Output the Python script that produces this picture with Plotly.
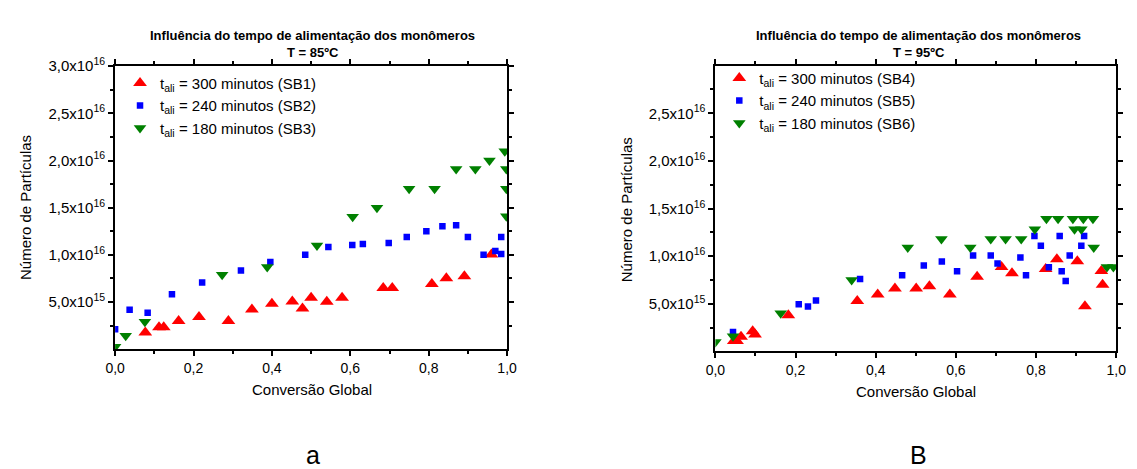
import plotly.graph_objects as go

# ---------------- data: T = 85 C (left) ----------------
sb1_x = [0.077, 0.112, 0.124, 0.162, 0.214, 0.289, 0.349, 0.400, 0.452, 0.478, 0.500,
         0.540, 0.579, 0.684, 0.707, 0.808, 0.845, 0.891, 0.960]
sb1_y = [1.77e15, 2.32e15, 2.32e15, 2.98e15, 3.40e15, 2.98e15, 4.20e15, 4.82e15, 5.06e15,
         4.30e15, 5.45e15, 5.03e15, 5.45e15, 6.49e15, 6.49e15, 6.90e15, 7.53e15, 7.74e15, 1.003e16]

sb2_x = [0.000, 0.037, 0.083, 0.145, 0.222, 0.321, 0.396, 0.485, 0.544, 0.605, 0.632,
         0.698, 0.744, 0.794, 0.835, 0.870, 0.900, 0.940, 0.970, 0.985, 0.985]
sb2_y = [2.10e15, 4.17e15, 3.85e15, 5.83e15, 7.08e15, 8.33e15, 9.23e15, 1.000e16, 1.083e16,
         1.104e16, 1.115e16, 1.125e16, 1.188e16, 1.250e16, 1.302e16, 1.313e16, 1.188e16,
         1.000e16, 1.042e16, 1.188e16, 1.010e16]

sb3_x = [0.000, 0.027, 0.076, 0.273, 0.388, 0.515, 0.606, 0.668, 0.750, 0.815, 0.870,
         0.919, 0.955, 0.994, 0.998, 0.998, 0.998]
sb3_y = [0.25e15, 1.42e15, 2.92e15, 7.88e15, 8.71e15, 1.100e16, 1.405e16, 1.500e16, 1.700e16,
         1.700e16, 1.910e16, 1.910e16, 2.000e16, 2.097e16, 1.910e16, 1.700e16, 1.410e16]

# ---------------- data: T = 95 C (right) ----------------
sb4_x = [0.046, 0.054, 0.064, 0.093, 0.099, 0.182, 0.354, 0.405, 0.448, 0.501, 0.534,
         0.585, 0.653, 0.714, 0.740, 0.824, 0.852, 0.903, 0.922, 0.963, 0.966]
sb4_y = [1.09e15, 1.09e15, 1.54e15, 2.12e15, 1.78e15, 3.80e15, 5.30e15, 5.99e15, 6.60e15,
         6.60e15, 6.84e15, 5.99e15, 7.83e15, 8.86e15, 8.21e15, 8.66e15, 9.68e15, 9.48e15,
         4.75e15, 8.45e15, 7.01e15]

sb5_x = [0.044, 0.208, 0.231, 0.251, 0.361, 0.466, 0.520, 0.565, 0.603, 0.643, 0.687,
         0.704, 0.761, 0.775, 0.796, 0.812, 0.832, 0.859, 0.864, 0.874, 0.884, 0.913, 0.920]
sb5_y = [2.05e15, 4.96e15, 4.72e15, 5.34e15, 7.60e15, 8.00e15, 9.03e15, 9.45e15, 8.42e15,
         1.006e16, 1.006e16, 9.24e15, 9.86e15, 8.00e15, 1.211e16, 1.109e16, 8.83e15,
         1.211e16, 8.42e15, 7.39e15, 1.006e16, 1.109e16, 1.211e16]

sb6_x = [0.000, 0.044, 0.163, 0.340, 0.480, 0.564, 0.636, 0.687, 0.724, 0.763, 0.797,
         0.826, 0.855, 0.892, 0.896, 0.913, 0.918, 0.942, 0.944, 0.977, 0.993]
sb6_y = [1.00e15, 1.60e15, 4.00e15, 7.50e15, 1.090e16, 1.180e16, 1.090e16, 1.180e16,
         1.180e16, 1.180e16, 1.283e16, 1.392e16, 1.392e16, 1.392e16, 1.283e16, 1.283e16,
         1.392e16, 1.392e16, 1.090e16, 8.86e15, 8.86e15]

x_tickvals = [0.0, 0.2, 0.4, 0.6, 0.8, 1.0]
x_ticktext = ["0,0", "0,2", "0,4", "0,6", "0,8", "1,0"]
x_minor = [0.1, 0.3, 0.5, 0.7, 0.9]
yl_tickvals = [5e15, 1e16, 1.5e16, 2e16, 2.5e16, 3e16]
yl_ticktext = ["5,0x10<sup>15</sup>", "1,0x10<sup>16</sup>", "1,5x10<sup>16</sup>",
               "2,0x10<sup>16</sup>", "2,5x10<sup>16</sup>", "3,0x10<sup>16</sup>"]
yr_tickvals = [5e15, 1e16, 1.5e16, 2e16, 2.5e16]
yr_ticktext = ["5,0x10<sup>15</sup>", "1,0x10<sup>16</sup>", "1,5x10<sup>16</sup>",
               "2,0x10<sup>16</sup>", "2,5x10<sup>16</sup>"]
y_minor = [2.5e15, 7.5e15, 1.25e16, 1.75e16, 2.25e16, 2.75e16]

FONT = "Liberation Sans, Arial, sans-serif"
RED, BLUE, GREEN = "#ff0000", "#0000ff", "#008000"
W, H = 1137, 469

fig = go.Figure()


def add(x, y, name, sym, color, size, xa, ya, leg):
    fig.add_trace(go.Scatter(
        x=x, y=y, mode="markers", name=name, xaxis=xa, yaxis=ya, legend=leg,
        marker=dict(symbol=sym, color=color, size=size, line=dict(width=0)),
    ))


add(sb1_x, sb1_y, "t<sub>ali</sub> = 300 minutos (SB1)", "triangle-up", RED, 12, "x", "y", "legend")
add(sb2_x, sb2_y, "t<sub>ali</sub> = 240 minutos (SB2)", "square", BLUE, 6.5, "x", "y", "legend")
add(sb3_x, sb3_y, "t<sub>ali</sub> = 180 minutos (SB3)", "triangle-down", GREEN, 11, "x", "y", "legend")
add(sb4_x, sb4_y, "t<sub>ali</sub> = 300 minutos (SB4)", "triangle-up", RED, 12, "x2", "y2", "legend2")
add(sb5_x, sb5_y, "t<sub>ali</sub> = 240 minutos (SB5)", "square", BLUE, 6.5, "x2", "y2", "legend2")
add(sb6_x, sb6_y, "t<sub>ali</sub> = 180 minutos (SB6)", "triangle-down", GREEN, 11, "x2", "y2", "legend2")


def px_x(p):
    return p / W


def px_y(p):
    return (H - p) / H


axis_common = dict(showline=True, linecolor="black", linewidth=2, mirror="ticks",
                   ticks="outside", ticklen=5, tickwidth=1.5, tickcolor="black",
                   showgrid=False, zeroline=False)
xfont = dict(family=FONT, size=14, color="black")
yfont = dict(family=FONT, size=15, color="black")
minor_common = dict(ticks="outside", ticklen=3, tickcolor="black", tickwidth=1.5)

fig.update_layout(
    width=W, height=H, autosize=False,
    margin=dict(l=0, r=0, t=0, b=0),
    paper_bgcolor="white", plot_bgcolor="white",
    font=dict(family=FONT, color="black"),
    xaxis=dict(domain=[px_x(107), px_x(506)], range=[0, 1], anchor="y",
               tickmode="array", tickvals=x_tickvals, ticktext=x_ticktext, tickfont=xfont,
               minor=dict(tickvals=x_minor, **minor_common), **axis_common),
    yaxis=dict(domain=[px_y(346.3), px_y(56.5)], range=[0, 3e16], anchor="x",
               tickmode="array", tickvals=yl_tickvals, ticktext=yl_ticktext, tickfont=yfont,
               minor=dict(tickvals=y_minor, **minor_common), **axis_common),
    xaxis2=dict(domain=[px_x(718), px_x(1126)], range=[0, 1], anchor="y2",
                tickmode="array", tickvals=x_tickvals, ticktext=x_ticktext, tickfont=xfont,
                minor=dict(tickvals=x_minor, **minor_common), **axis_common),
    yaxis2=dict(domain=[px_y(348.6), px_y(56)], range=[0, 3e16], anchor="x2",
                tickmode="array", tickvals=yr_tickvals, ticktext=yr_ticktext, tickfont=yfont,
                minor=dict(tickvals=y_minor, **minor_common), **axis_common),
    legend=dict(x=px_x(112), y=px_y(57), xanchor="left", yanchor="top",
                bgcolor="rgba(0,0,0,0)", borderwidth=0,
                font=dict(family=FONT, size=15, color="black")),
    legend2=dict(x=px_x(722), y=px_y(52), xanchor="left", yanchor="top",
                 bgcolor="rgba(0,0,0,0)", borderwidth=0,
                 font=dict(family=FONT, size=15, color="black")),
    showlegend=True,
)

ann = []
for cx, temp in [(308, "T = 85ºC"), (925, "T = 95ºC")]:
    ann.append(dict(x=px_x(cx), y=px_y(25), xref="paper", yref="paper", showarrow=False,
                    text="<b>Influência do tempo de alimentação dos monômeros</b>",
                    font=dict(family=FONT, size=13, color="black"), xanchor="center", yanchor="middle"))
    ann.append(dict(x=px_x(cx), y=px_y(43), xref="paper", yref="paper", showarrow=False,
                    text="<b>" + temp + "</b>",
                    font=dict(family=FONT, size=13, color="black"), xanchor="center", yanchor="middle"))

for cx, cy in [(307, 388), (922, 390)]:
    ann.append(dict(x=px_x(cx), y=px_y(cy), xref="paper", yref="paper", showarrow=False,
                    text="Conversão Global", font=dict(family=FONT, size=15, color="black"),
                    xanchor="center", yanchor="middle"))

for cx, cy in [(16, 201), (627, 203)]:
    ann.append(dict(x=px_x(cx), y=px_y(cy), xref="paper", yref="paper", showarrow=False,
                    text="Número de Partículas", textangle=-90,
                    font=dict(family=FONT, size=15, color="black"),
                    xanchor="center", yanchor="middle"))

for cx, lab in [(308, "a"), (925, "B")]:
    ann.append(dict(x=px_x(cx), y=px_y(455), xref="paper", yref="paper", showarrow=False,
                    text=lab, font=dict(family=FONT, size=25, color="black"),
                    xanchor="center", yanchor="middle"))

fig.update_layout(annotations=ann)

fig.write_html("out.html")
